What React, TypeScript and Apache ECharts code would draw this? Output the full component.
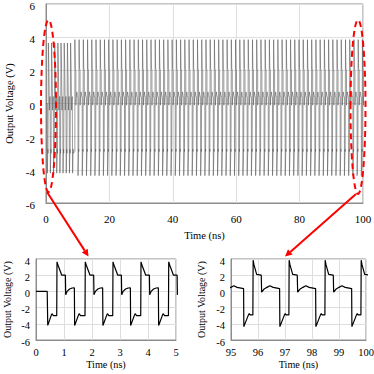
import React, { useEffect, useRef } from "react";
import * as echarts from "echarts";

// ---- Data ----
// Start of the trace (before the first rising edge): time (ns), voltage (V)
const startT = [0, 0.4, 0.42, 0.55, 0.58, 0.62];
const startV = [0, 0, -4.2, -2.9, -2.75, -3.0];

// Rising-edge times of the early (start-up) cycles
const earlyRises = [0.74, 1.75, 2.74, 3.74, 4.73, 5.74, 6.75, 7.75];
// One early cycle, offsets from its rising edge (ns) and voltages (V)
const earlyDt = [0, 0.01, 0.05, 0.18, 0.31, 0.32, 0.37, 0.46, 0.55, 0.63, 0.64, 0.78, 0.81, 0.85];
const earlyV = [-3.0, 3.65, 3.2, 2.0, 2.0, -0.4, 0.0, 0.3, 0.42, 0.45, -4.2, -2.9, -2.75, -3.0];

const steadyFirstRise = 9.1;
const steadyPeriod = 1.334;
const steadyCycles = 69;
// One steady cycle, offsets from its rising edge (ns) and voltages (V)
const lateDt = [0, 0.01, 0.04, 0.14, 0.31, 0.325, 0.42, 0.52, 0.63, 0.75, 0.99, 1.0, 1.17, 1.2, 1.23];
const lateV = [-2.9, 3.85, 3.3, 2.1, 2.0, -0.1, 0.3, 0.5, 0.7, 0.5, 0.35, -4.35, -2.9, -2.75, -2.9];

// Axis ticks
const mainX = { min: 0, max: 100, step: 20 };
const mainY = { min: -6, max: 6, step: 2 };
const leftX = { min: 0, max: 5, step: 1 };
const rightX = { min: 95, max: 100, step: 1 };
const insetY = { min: -6, max: 4, step: 2 };

// ---- Build the trace from the read cycles ----
function buildTrace(): [number, number][] {
  const pts: [number, number][] = [];
  startT.forEach((t, i) => pts.push([t, startV[i]]));
  earlyRises.forEach((r) => {
    earlyDt.forEach((d, i) => pts.push([+(r + d).toFixed(3), earlyV[i]]));
  });
  for (let k = 0; k < steadyCycles; k++) {
    const r = steadyFirstRise + k * steadyPeriod;
    lateDt.forEach((d, i) => pts.push([+(r + d).toFixed(3), lateV[i]]));
  }
  return pts;
}

const FONT = "'Liberation Serif', 'Times New Roman', Times, serif";
const AX = "#8c8c8c";
const GRIDC = "#dedede";

function xAxis(gridIndex: number, r: any, gap: number, margin: number, fs: number, nfs: number) {
  return {
    type: "value", gridIndex, min: r.min, max: r.max, interval: r.step,
    name: "Time (ns)", nameLocation: "middle", nameGap: gap,
    nameTextStyle: { fontFamily: FONT, fontSize: nfs, color: "#000" },
    axisLine: { show: true, onZero: false, lineStyle: { color: AX, width: 1 } },
    axisTick: { show: false },
    axisLabel: { fontFamily: FONT, fontSize: fs, color: "#000", margin },
    splitLine: { show: true, lineStyle: { color: GRIDC, width: 1 } },
  };
}

function yAxis(gridIndex: number, r: any, gap: number, margin: number, fs: number, nfs: number) {
  return {
    type: "value", gridIndex, min: r.min, max: r.max, interval: r.step,
    name: "Output Voltage (V)", nameLocation: "middle", nameGap: gap, nameRotate: 90,
    nameTextStyle: { fontFamily: FONT, fontSize: nfs, color: "#000" },
    axisLine: { show: true, onZero: false, lineStyle: { color: AX, width: 1 } },
    axisTick: { show: false },
    axisLabel: { fontFamily: FONT, fontSize: fs, color: "#000", margin, verticalAlign: "top", lineHeight: 4 },
    splitLine: { show: true, lineStyle: { color: GRIDC, width: 1 } },
  };
}

export default function App() {
  const ref = useRef<HTMLDivElement>(null);
  useEffect(() => {
    document.body.style.margin = "0";
    const chart = echarts.init(ref.current!, null, { renderer: "svg" });
    const trace = buildTrace();
    const leftData = trace.filter((p) => p[0] <= leftX.max + 0.5);
    const rightData = trace.filter((p) => p[0] >= rightX.min - 1.5);
    const red = "#ff0000";
    const gridBase = { show: true, borderColor: AX, borderWidth: 1, backgroundColor: "transparent", outerBoundsMode: "none", containLabel: false };
    const option: any = {
      animation: false,
      backgroundColor: "#fff",
      textStyle: { fontFamily: FONT },
      grid: [
        { ...gridBase, left: 46, top: 4, width: 317, height: 199 },
        { ...gridBase, left: 36, top: 259, width: 140, height: 81 },
        { ...gridBase, left: 231, top: 259, width: 135, height: 81 },
      ],
      xAxis: [
        xAxis(0, mainX, 27, 10, 11, 10.5),
        xAxis(1, leftX, 19, 7, 10.5, 10.2),
        xAxis(2, rightX, 19, 7, 10.5, 10.2),
      ],
      yAxis: [
        yAxis(0, mainY, 31, 11, 11, 10.5),
        yAxis(1, insetY, 24, 6, 10.5, 10),
        yAxis(2, insetY, 25, 6, 10.5, 10),
      ],
      series: [
        { type: "line", xAxisIndex: 0, yAxisIndex: 0, data: trace, showSymbol: false, symbol: "none", clip: true, lineStyle: { color: "#5a5a5a", width: 0.6 } },
        { type: "line", xAxisIndex: 1, yAxisIndex: 1, data: leftData, showSymbol: false, symbol: "none", clip: true, lineStyle: { color: "#000", width: 1.2 } },
        { type: "line", xAxisIndex: 2, yAxisIndex: 2, data: rightData, showSymbol: false, symbol: "none", clip: true, lineStyle: { color: "#000", width: 1.2 } },
      ],
      graphic: [
        { type: "ellipse", shape: { cx: 48.5, cy: 106, rx: 7.5, ry: 86 }, style: { fill: "none", stroke: red, lineWidth: 2, lineDash: [6, 4] }, z: 100 },
        { type: "ellipse", shape: { cx: 358, cy: 107, rx: 7.5, ry: 87 }, style: { fill: "none", stroke: red, lineWidth: 2, lineDash: [6, 4] }, z: 100 },
        { type: "line", shape: { x1: 47, y1: 192, x2: 84.7, y2: 250.6 }, style: { stroke: red, lineWidth: 2 }, z: 100 },
        { type: "polygon", shape: { points: [[81.8, 252.5], [87.7, 248.7], [88.5, 256.5]] }, style: { fill: red }, z: 100 },
        { type: "line", shape: { x1: 356, y1: 194, x2: 290.3, y2: 251.9 }, style: { stroke: red, lineWidth: 2 }, z: 100 },
        { type: "polygon", shape: { points: [[288, 249.3], [292.6, 254.5], [285, 256.5]] }, style: { fill: red }, z: 100 },
      ],
    };
    chart.setOption(option);
    return () => chart.dispose();
  }, []);
  return <div ref={ref} style={{ width: 374, height: 374 }} />;
}
